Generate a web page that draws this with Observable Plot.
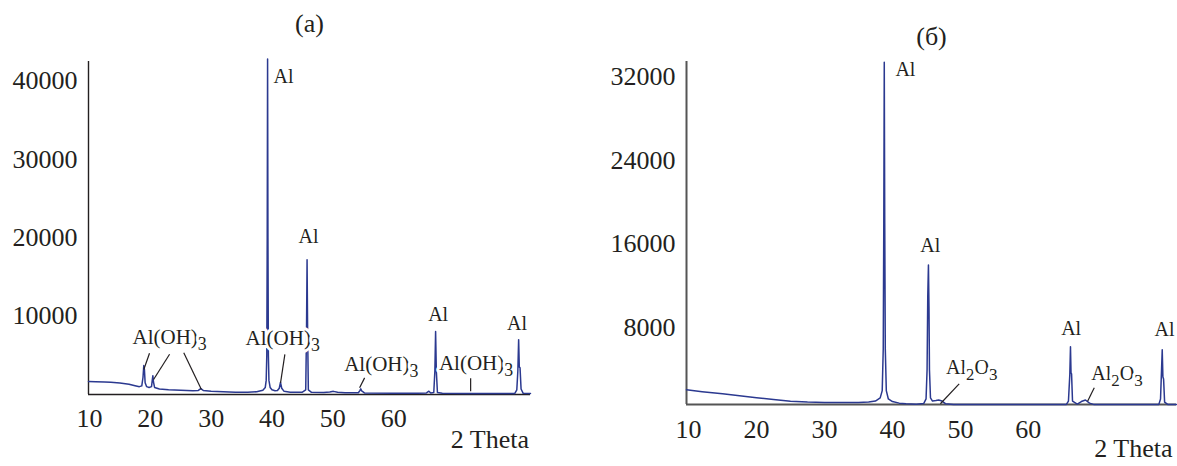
<!DOCTYPE html>
<html><head><meta charset="utf-8">
<script src="https://cdn.jsdelivr.net/npm/d3@7"></script>
<script src="https://cdn.jsdelivr.net/npm/@observablehq/plot@0.6"></script>
<style>
body{margin:0;background:#fff;}
#wrap{position:relative;width:1177px;height:466px;overflow:hidden;background:#fff;}
#pa{position:absolute;left:0;top:0;}
#pb{position:absolute;left:590px;top:0;}
</style></head><body>
<div id="wrap"><div id="pa"></div><div id="pb"></div></div>
<script>
// ---------- Panel (a) ----------
const titleA = "(a)";
const xTicksA = [10, 20, 30, 40, 50, 60];
const yTicksA = [10000, 20000, 30000, 40000];
const xDomA = [9.84, 82.5];
const yDomA = [0, 42480];
const thetaA = [9.84, 11, 12.5, 13.5, 15, 16.5, 17.5, 18.2, 18.6, 18.8, 18.93, 19.03, 19.15, 19.4, 19.8, 20.2, 20.32, 20.42, 20.52, 20.7, 21.5, 23, 25, 27, 27.9, 28.3, 28.7, 30, 32, 34, 36, 37.5, 38.5, 38.9, 39.05, 39.15, 39.22, 39.28, 39.34, 39.41, 39.5, 39.7, 40.0, 40.5, 40.9, 41.2, 41.4, 41.6, 42, 43, 45, 45.55, 45.68, 45.77, 45.86, 45.98, 46.5, 48.5, 49.5, 50.1, 50.8, 52, 54.2, 54.45, 54.6, 54.75, 55.2, 60, 64, 65.4, 65.8, 66.1, 66.6, 66.78, 66.9, 67.02, 67.2, 68, 72, 75, 79.9, 80.25, 80.42, 80.55, 80.66, 80.78, 80.95, 81.3, 82.5];
const intensityA = [1650, 1640, 1600, 1560, 1480, 1300, 1120, 1000, 1100, 2200, 3700, 3200, 1500, 1000, 900, 1000, 1800, 2400, 1600, 900, 700, 600, 530, 480, 520, 760, 520, 420, 350, 300, 300, 350, 550, 900, 1800, 5000, 20000, 42800, 20000, 5000, 1800, 900, 600, 480, 500, 800, 1550, 800, 400, 300, 300, 600, 8000, 17200, 8000, 600, 280, 250, 330, 400, 300, 220, 220, 500, 720, 450, 200, 170, 170, 200, 420, 200, 250, 3000, 8050, 3000, 250, 150, 120, 120, 120, 600, 3000, 7000, 3500, 3400, 700, 150, 120];
const labelTextA = ["Al", "Al", "Al(OH)_3", "Al(OH)_3", "Al(OH)_3", "Al(OH)_3", "Al", "Al"];
const labelXA = [40.26, 46.0, 17.07, 35.66, 51.87, 67.45, 67.32, 80.28];
const labelYA = [40520, 20090, 7250, 7150, 3870, 4040, 10220, 9020];
const labelAnchorA = ["start", "middle", "start", "start", "start", "start", "middle", "middle"];
const leadX1A = [19.87, 23.17, 25.5, 42.12, 55.23, 72.66];
const leadY1A = [5260, 5130, 5340, 5110, 2120, 2080];
const leadX2A = [18.93, 20.54, 28.4, 41.41, 54.41, 72.66];
const leadY2A = [3180, 1920, 640, 1480, 870, 420];

// ---------- Panel (б) ----------
const titleB = "(б)";
const xTicksB = [10, 20, 30, 40, 50, 60];
const yTicksB = [8000, 16000, 24000, 32000];
const xDomB = [9.7, 81.8];
const yDomB = [670, 33465];
const thetaB = [9.7, 12, 15, 17.5, 20, 22.5, 25, 27.5, 30, 33, 35, 36.5, 37.5, 38.2, 38.5, 38.65, 38.73, 38.8, 38.87, 38.95, 39.1, 39.4, 40, 41, 42, 43.5, 44.6, 44.95, 45.1, 45.2, 45.3, 45.38, 45.45, 45.6, 45.9, 46.4, 46.8, 47.3, 47.8, 49, 55, 62, 65.6, 65.9, 66.1, 66.2, 66.28, 66.36, 66.5, 67.2, 67.8, 68.4, 69.0, 69.6, 75, 79.2, 79.45, 79.6, 79.7, 79.8, 79.9, 80.05, 80.5, 81.8];
const intensityB = [2075, 1900, 1690, 1500, 1310, 1150, 985, 900, 860, 850, 860, 900, 1000, 1300, 2000, 6000, 18000, 33400, 18000, 6000, 2000, 1200, 950, 800, 740, 700, 760, 1200, 4000, 11000, 14000, 10000, 4000, 1300, 1000, 1050, 1100, 1000, 750, 680, 670, 670, 680, 1000, 3500, 6200, 3700, 3600, 1000, 700, 950, 1100, 800, 680, 670, 680, 1200, 4000, 5900, 3300, 3100, 900, 680, 670];
const labelTextB = ["Al", "Al", "Al_2O_3", "Al", "Al_2O_3", "Al"];
const labelXB = [40.44, 45.56, 47.9, 66.3, 69.26, 80.04];
const labelYB = [32670, 15870, 4240, 7900, 3600, 7810];
const labelAnchorB = ["start", "middle", "start", "middle", "start", "middle"];
const leadX1B = [49.82, 69.7];
const leadY1B = [2650, 2270];
const leadX2B = [47.06, 68.72];
const leadY2B = [740, 985];

const INK = "#231f20";
const LINE = "#2b3990";
const FONT = "'Liberation Serif', 'Times New Roman', serif";

function labelMarks(texts, xs, ys, anchors) {
  const rows = texts.map((t, i) => ({t, x: xs[i], y: ys[i], a: anchors[i]}));
  return ["start", "middle"].map(a => Plot.text(rows.filter(r => r.a === a), {
    x: "x", y: "y", text: "t", textAnchor: a, lineAnchor: "middle",
    fontSize: d => d.t.includes("(") ? 21 : 20, fill: INK,
    stroke: "white", strokeWidth: 6
  }));
}

function panel(o) {
  return Plot.plot({
    width: o.width, height: 466,
    marginLeft: o.ml, marginRight: o.mr, marginTop: 61, marginBottom: o.mb,
    x: {domain: o.xDom, ticks: o.xTicks, tickSize: 0, tickPadding: o.xPad, label: null, tickFormat: d => String(d)},
    y: {domain: o.yDom, ticks: o.yTicks, tickSize: 0, tickPadding: 11, label: null, tickFormat: d => String(d)},
    style: {fontFamily: FONT, fontSize: "26px", color: INK, background: "white", overflow: "visible"},
    marks: [
      Plot.ruleX([o.xDom[0]], {stroke: o.axis, strokeWidth: o.aw}),
      Plot.ruleY([o.yDom[0]], {stroke: o.axis, strokeWidth: o.aw}),
      Plot.line(o.theta, {x: o.theta, y: o.inten, stroke: LINE, strokeWidth: 1.5, clip: false}),
      ...labelMarks(o.lt, o.lxs, o.lys, o.la),
      Plot.link(o.lx1, {x1: o.lx1, y1: o.ly1, x2: o.lx2, y2: o.ly2, stroke: INK, strokeWidth: 1.2}),
      Plot.text([o.title], {text: d => d, frameAnchor: "top", textAnchor: "middle", lineAnchor: "middle", dy: o.tdy, fontSize: 26, fill: INK}),
      Plot.text(["2 Theta"], {text: d => d, frameAnchor: "bottom-right", textAnchor: "end", lineAnchor: "middle", dx: o.ldx, dy: o.ldy, fontSize: 26, fill: INK})
    ]
  });
}

function subscripts(svg) {
  svg.querySelectorAll("text").forEach(t => {
    const s = t.textContent;
    if (!s.includes("_")) return;
    const parts = s.split(/(_\d)/).filter(p => p);
    t.textContent = "";
    let sub = false;
    for (const p of parts) {
      const ts = document.createElementNS("http://www.w3.org/2000/svg", "tspan");
      if (p.startsWith("_")) {
        ts.textContent = p.slice(1);
        ts.setAttribute("dy", "6");
        ts.setAttribute("font-size", "85%");
        sub = true;
      } else {
        ts.textContent = p;
        if (sub) { ts.setAttribute("dy", "-6"); sub = false; }
      }
      t.appendChild(ts);
    }
  });
}

const a = panel({width: 560, ml: 88, mr: 30, mb: 72, xDom: xDomA, yDom: yDomA, xTicks: xTicksA, yTicks: yTicksA,
  xPad: 14, axis: INK, aw: 1.4, theta: thetaA, inten: intensityA, lx1: leadX1A, ly1: leadY1A, lx2: leadX2A, ly2: leadY2A,
  lt: labelTextA, lxs: labelXA, lys: labelYA, la: labelAnchorA, title: titleA, tdy: -38, ldx: -1.5, ldy: 45});
const b = panel({width: 587, ml: 96, mr: 1, mb: 62, xDom: xDomB, yDom: yDomB, xTicks: xTicksB, yTicks: yTicksB,
  xPad: 15, axis: "#555", aw: 2, theta: thetaB, inten: intensityB, lx1: leadX1B, ly1: leadY1B, lx2: leadX2B, ly2: leadY2B,
  lt: labelTextB, lxs: labelXB, lys: labelYB, la: labelAnchorB, title: titleB, tdy: -25, ldx: -4, ldy: 44});
subscripts(a); subscripts(b);
document.getElementById("pa").appendChild(a);
document.getElementById("pb").appendChild(b);
</script>
</body></html>
